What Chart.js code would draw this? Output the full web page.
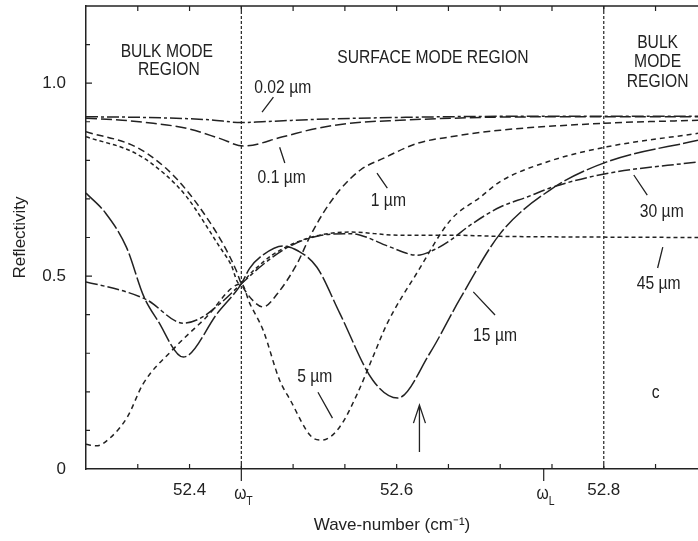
<!DOCTYPE html>
<html>
<head>
<meta charset="utf-8">
<script src="https://cdn.jsdelivr.net/npm/chart.js@4"></script>
<style>
  html, body { margin: 0; padding: 0; background: #fff; }
</style>
</head>
<body>
<canvas id="reflChart" width="698" height="541"></canvas>
<script>
// axis ticks
const xLabelTicks = [52.4, 52.6, 52.8];
const xMinorTicks = [52.35, 52.4, 52.45, 52.5, 52.55, 52.6, 52.65, 52.7, 52.75, 52.8, 52.85];
const yLabelTicks = [0, 0.5, 1.0];
const yMinorTicks = [0.1, 0.2, 0.3, 0.4, 0.5, 0.6, 0.7, 0.8, 0.9, 1.0, 1.1];
const omegaT = 52.45;
const omegaL = 52.742;
const regionEdges = [52.45, 52.8];

// reflectivity curves, one pair of arrays per film thickness
const d002X = [52.30, 52.36, 52.42, 52.45, 52.47, 52.52, 52.60, 52.70, 52.891];
const d002Y = [0.913, 0.911, 0.905, 0.898, 0.900, 0.906, 0.911, 0.914, 0.914];

const d01X = [52.30, 52.335, 52.365, 52.397, 52.429, 52.452, 52.49, 52.523, 52.555, 52.603, 52.652, 52.70, 52.80, 52.891];
const d01Y = [0.909, 0.904, 0.896, 0.883, 0.857, 0.837, 0.861, 0.883, 0.896, 0.904, 0.909, 0.912, 0.913, 0.913];

const d1X = [52.30, 52.348, 52.377, 52.397, 52.416, 52.432, 52.445, 52.45, 52.46, 52.471, 52.485, 52.504, 52.516, 52.529, 52.545, 52.565, 52.587, 52.62, 52.652, 52.70, 52.80, 52.891];
const d1Y = [0.874, 0.835, 0.780, 0.723, 0.654, 0.585, 0.515, 0.480, 0.440, 0.420, 0.455, 0.533, 0.601, 0.663, 0.723, 0.775, 0.805, 0.844, 0.861, 0.878, 0.896, 0.904];

const d5X = [52.30, 52.31, 52.323, 52.34, 52.355, 52.384, 52.415, 52.45, 52.458, 52.471, 52.487, 52.497, 52.518, 52.528, 52.545, 52.562, 52.577, 52.591, 52.62, 52.652, 52.681, 52.70, 52.75, 52.803, 52.891];
const d5Y = [0.064, 0.060, 0.080, 0.135, 0.220, 0.310, 0.390, 0.480, 0.430, 0.360, 0.230, 0.180, 0.083, 0.075, 0.109, 0.195, 0.290, 0.378, 0.510, 0.645, 0.705, 0.745, 0.800, 0.835, 0.870];

const d15X = [52.30, 52.319, 52.339, 52.356, 52.369, 52.394, 52.427, 52.45, 52.458, 52.471, 52.49, 52.505, 52.523, 52.545, 52.577, 52.601, 52.632, 52.661, 52.70, 52.748, 52.803, 52.891];
const d15Y = [0.715, 0.663, 0.575, 0.446, 0.386, 0.290, 0.404, 0.480, 0.520, 0.555, 0.578, 0.565, 0.523, 0.404, 0.230, 0.184, 0.300, 0.440, 0.610, 0.723, 0.796, 0.852];

const d30X = [52.30, 52.339, 52.359, 52.394, 52.41, 52.43, 52.45, 52.471, 52.495, 52.526, 52.555, 52.565, 52.594, 52.62, 52.639, 52.652, 52.671, 52.70, 52.726, 52.751, 52.803, 52.891];
const d30Y = [0.485, 0.459, 0.438, 0.378, 0.390, 0.430, 0.480, 0.530, 0.575, 0.605, 0.610, 0.606, 0.575, 0.554, 0.572, 0.593, 0.632, 0.679, 0.705, 0.731, 0.766, 0.796];

const d45X = [52.30, 52.348, 52.377, 52.397, 52.429, 52.44, 52.448, 52.46, 52.48, 52.514, 52.555, 52.603, 52.652, 52.70, 52.80, 52.891];
const d45Y = [0.861, 0.818, 0.762, 0.706, 0.576, 0.530, 0.480, 0.510, 0.555, 0.598, 0.614, 0.606, 0.606, 0.603, 0.601, 0.600];

const FONT = "'Liberation Sans', Arial, sans-serif";
const INK = '#222';
const SQUEEZE = 0.87; // the original lettering is a narrow sans

function pts(xs, ys) {
  return xs.map((x, i) => ({ x: x, y: ys[i] }));
}

function curve(xs, ys, dash) {
  return {
    data: pts(xs, ys),
    borderColor: INK,
    borderWidth: 1.5,
    borderDash: dash,
    pointRadius: 0,
    fill: false,
    cubicInterpolationMode: 'monotone'
  };
}

function edgeLine(v) {
  return {
    data: [{ x: v, y: 0 }, { x: v, y: 1.2 }],
    borderColor: INK,
    borderWidth: 1.2,
    borderDash: [3, 2],
    pointRadius: 0,
    fill: false
  };
}

// labels on the plot, placed in data units
const notes = [
  { t: 'BULK MODE', x: 52.378, y: 1.080 },
  { t: 'REGION', x: 52.380, y: 1.034 },
  { t: 'SURFACE MODE REGION', x: 52.635, y: 1.065 },
  { t: 'BULK', x: 52.852, y: 1.104 },
  { t: 'MODE', x: 52.852, y: 1.054 },
  { t: 'REGION', x: 52.852, y: 1.003 },
  { t: '0.02 µm', x: 52.490, y: 0.987 },
  { t: '0.1 µm', x: 52.489, y: 0.754 },
  { t: '1 µm', x: 52.592, y: 0.694 },
  { t: '5 µm', x: 52.521, y: 0.238 },
  { t: '15 µm', x: 52.695, y: 0.345 },
  { t: '30 µm', x: 52.856, y: 0.666 },
  { t: '45 µm', x: 52.853, y: 0.479 },
  { t: 'c', x: 52.850, y: 0.197 }
];
const leaders = [
  [52.481, 0.964, 52.470, 0.925],
  [52.487, 0.834, 52.492, 0.793],
  [52.581, 0.767, 52.591, 0.728],
  [52.524, 0.199, 52.538, 0.132],
  [52.674, 0.459, 52.695, 0.399],
  [52.829, 0.762, 52.842, 0.710],
  [52.857, 0.575, 52.852, 0.521]
];

function narrowText(ctx, text, px, py) {
  ctx.save();
  ctx.translate(px, py);
  ctx.scale(SQUEEZE, 1);
  ctx.fillText(text, 0, 0);
  ctx.restore();
}

const decor = {
  id: 'decor',
  afterDraw(chart) {
    const { ctx, chartArea: a, scales: { x, y } } = chart;
    ctx.save();
    ctx.strokeStyle = INK;
    ctx.fillStyle = INK;
    ctx.lineWidth = 1.5;
    ctx.beginPath();
    ctx.moveTo(a.left, a.top);
    ctx.lineTo(a.right, a.top);
    ctx.stroke();

    ctx.lineWidth = 1.2;
    ctx.beginPath();
    xMinorTicks.forEach(v => {
      const px = x.getPixelForValue(v);
      ctx.moveTo(px, a.bottom); ctx.lineTo(px, a.bottom - 5);
      ctx.moveTo(px, a.top); ctx.lineTo(px, a.top + 5);
    });
    yMinorTicks.forEach(v => {
      const py = y.getPixelForValue(v);
      const len = Math.abs(v * 2 - Math.round(v * 2)) < 1e-6 ? 6 : 4;
      ctx.moveTo(a.left, py); ctx.lineTo(a.left + len, py);
    });
    // omega ticks below the axis
    [omegaT, omegaL].forEach(v => {
      const px = x.getPixelForValue(v);
      ctx.moveTo(px, a.bottom); ctx.lineTo(px, a.bottom + 12);
    });
    ctx.stroke();

    ctx.textAlign = 'center';
    ctx.textBaseline = 'middle';
    [[omegaT, 'T'], [omegaL, 'L']].forEach(([v, sub]) => {
      const px = x.getPixelForValue(v);
      ctx.font = '18px ' + FONT;
      narrowText(ctx, 'ω', px - 1, a.bottom + 25);
      ctx.font = '12px ' + FONT;
      narrowText(ctx, sub, px + 8, a.bottom + 33);
    });

    ctx.font = '18px ' + FONT;
    notes.forEach(n => {
      narrowText(ctx, n.t, x.getPixelForValue(n.x), y.getPixelForValue(n.y));
    });
    ctx.lineWidth = 1.3;
    ctx.beginPath();
    leaders.forEach(l => {
      ctx.moveTo(x.getPixelForValue(l[0]), y.getPixelForValue(l[1]));
      ctx.lineTo(x.getPixelForValue(l[2]), y.getPixelForValue(l[3]));
    });
    // arrow marking the 15 µm minimum
    const ax = x.getPixelForValue(52.622);
    const tip = y.getPixelForValue(0.166);
    const wing = y.getPixelForValue(0.119);
    ctx.moveTo(ax, y.getPixelForValue(0.044));
    ctx.lineTo(ax, tip);
    ctx.moveTo(ax - 6, wing); ctx.lineTo(ax, tip); ctx.lineTo(ax + 6, wing);
    ctx.stroke();
    ctx.restore();
  }
};

new Chart(document.getElementById('reflChart').getContext('2d'), {
  type: 'line',
  data: {
    datasets: [
      curve(d002X, d002Y, [12, 3, 3, 3]),
      curve(d01X, d01Y, [11, 4]),
      curve(d1X, d1Y, [7, 4]),
      curve(d5X, d5Y, [5, 4]),
      curve(d15X, d15Y, [22, 3]),
      curve(d30X, d30Y, [12, 3, 4, 3]),
      curve(d45X, d45Y, [4, 3]),
      edgeLine(regionEdges[0]),
      edgeLine(regionEdges[1])
    ]
  },
  options: {
    responsive: false,
    animation: false,
    devicePixelRatio: 1,
    layout: { padding: { top: 6, right: 0, bottom: 0, left: 0 } },
    plugins: { legend: { display: false }, tooltip: { enabled: false } },
    scales: {
      x: {
        type: 'linear',
        min: 52.3,
        max: 52.891,
        afterBuildTicks: s => { s.ticks = xLabelTicks.map(v => ({ value: v })); },
        afterFit: s => { s.height = 72; s.paddingLeft = 0; s.paddingRight = 0; },
        grid: { display: false },
        border: { display: true, color: INK, width: 1.5 },
        ticks: {
          autoSkip: false, maxRotation: 0, padding: 3, color: INK,
          font: { family: FONT, size: 17 },
          callback: v => v.toFixed(1)
        },
        title: {
          display: true, text: 'Wave-number (cm⁻¹)', color: INK,
          font: { family: FONT, size: 17 }, padding: { top: 0, bottom: 5 }
        }
      },
      y: {
        min: 0,
        max: 1.2,
        afterBuildTicks: s => { s.ticks = yLabelTicks.map(v => ({ value: v })); },
        afterFit: s => { s.width = 86; s.paddingTop = 0; s.paddingBottom = 0; },
        grid: { display: false },
        border: { display: true, color: INK, width: 1.5 },
        ticks: {
          padding: 12, color: INK,
          font: { family: FONT, size: 17 },
          callback: v => (v === 0 ? '0' : v.toFixed(1))
        },
        title: {
          display: true, text: 'Reflectivity', color: INK,
          font: { family: FONT, size: 17 }, padding: { top: 10, bottom: 0 }
        }
      }
    }
  },
  plugins: [decor]
});
</script>
</body>
</html>
